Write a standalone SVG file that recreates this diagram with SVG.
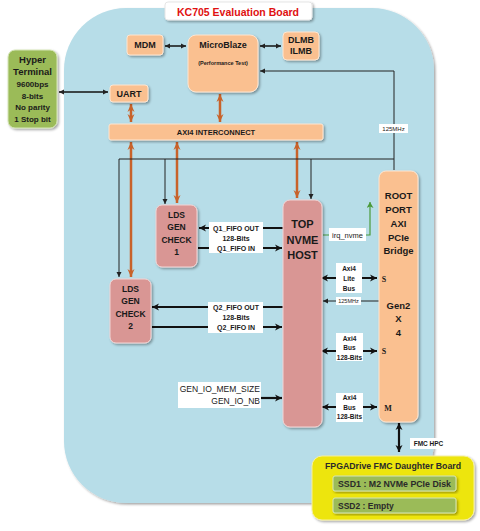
<svg xmlns="http://www.w3.org/2000/svg" width="480" height="531" viewBox="0 0 480 531">
<defs>
<filter id="sh" x="-20%" y="-20%" width="140%" height="140%">
<feDropShadow dx="1.5" dy="1.5" stdDeviation="1" flood-color="#000" flood-opacity="0.35"/>
</filter>
<marker id="ab" markerUnits="userSpaceOnUse" markerWidth="8" markerHeight="8" refX="7" refY="4" orient="auto-start-reverse"><path d="M0,0.5 L7,4 L0,7.5 L2,4 Z" fill="#111"/></marker>
<marker id="as" markerUnits="userSpaceOnUse" markerWidth="6" markerHeight="6" refX="5" refY="3" orient="auto-start-reverse"><path d="M0,0.5 L5,3 L0,5.5 Z" fill="#222"/></marker>
<marker id="ao" markerUnits="userSpaceOnUse" markerWidth="9" markerHeight="9" refX="8" refY="4.5" orient="auto-start-reverse"><path d="M0,1 L8,4.5 L0,8 L2.5,4.5 Z" fill="#c8622a"/></marker>
<marker id="ag" markerUnits="userSpaceOnUse" markerWidth="7" markerHeight="7" refX="6" refY="3.5" orient="auto"><path d="M0,0 L6,3.5 L0,7 L1.5,3.5 Z" fill="#4a9a3a"/></marker>
</defs>
<style>
.t{font-family:"Liberation Sans",Arial,sans-serif;font-weight:bold;fill:#1a1a1a;text-anchor:middle}
.n{font-family:"Liberation Sans",Arial,sans-serif;fill:#1a1a1a}
.sr{font-family:"Liberation Serif","Times New Roman",serif;font-weight:bold;fill:#1a1a1a;text-anchor:middle;font-size:8px}
.or{fill:#fac090;stroke:#fde6d2;stroke-width:1;filter:url(#sh)}
.pk{fill:#d99694;stroke:#f2d6d6;stroke-width:1;filter:url(#sh)}
.gr{fill:#9bbb59;stroke:#d6e6b8;stroke-width:1;filter:url(#sh)}
.wb{fill:#fff}
.thk{stroke:#111;stroke-width:2.2;fill:none}
.thn{stroke:#222;stroke-width:1;fill:none}
.org{stroke:#c8622a;stroke-width:2.5;fill:none}
</style>
<rect width="480" height="531" fill="#fff"/>
<g id="board">
<rect x="64" y="8" width="370" height="495" rx="62" ry="62" fill="#b7dde8" filter="url(#sh)"/>
</g>
<g id="title">
<rect x="165" y="2" width="147" height="18" rx="3" fill="#fff" stroke="#e6e6e6" filter="url(#sh)"/>
<text x="238" y="15.5" class="t" style="fill:#e01010;font-size:11.5px" textLength="122" lengthAdjust="spacingAndGlyphs">KC705 Evaluation Board</text>
</g>
<g id="connectors">
<path class="thk" d="M59,92 H108" marker-start="url(#as)" marker-end="url(#as)" style="stroke-width:1.5"/>
<path class="thk" d="M165,46 H186" marker-start="url(#as)" marker-end="url(#as)" style="stroke-width:1.5"/>
<path class="thk" d="M260,46 H281" marker-start="url(#as)" marker-end="url(#as)" style="stroke-width:1.5"/>
<path class="org" d="M131,104 V122" marker-start="url(#ao)" marker-end="url(#ao)"/>
<path class="org" d="M220,94 V122" marker-start="url(#ao)" marker-end="url(#ao)"/>
<path class="org" d="M131,142 V277" marker-start="url(#ao)" marker-end="url(#ao)"/>
<path class="org" d="M177,142 V203" marker-start="url(#ao)" marker-end="url(#ao)"/>
<path class="org" d="M297,142 V198" marker-start="url(#ao)" marker-end="url(#ao)"/>
<path class="thn" d="M119,159 H394"/>
<path class="thn" d="M394,170 V71 H260" marker-end="url(#as)"/>
<path class="thn" d="M119,159 V277" marker-end="url(#as)"/>
<path class="thn" d="M165,159 V204" marker-end="url(#as)"/>
<path class="thn" d="M311,159 V199" marker-end="url(#as)"/>
<path class="thk" d="M283,228 H199" marker-end="url(#ab)"/>
<path class="thk" d="M198,248 H282" marker-end="url(#ab)"/>
<path class="thk" d="M283,307 H152" marker-end="url(#ab)"/>
<path class="thk" d="M152,327 H282" marker-end="url(#ab)"/>
<path d="M323,235 H370 V202" stroke="#4a9a3a" stroke-width="1.2" fill="none" marker-end="url(#ag)"/>
<path class="thk" d="M321,278 H377" marker-start="url(#ab)" marker-end="url(#ab)"/>
<path class="thn" d="M379,301 H323" marker-end="url(#as)"/>
<path class="thk" d="M321,351 H377" marker-start="url(#ab)" marker-end="url(#ab)"/>
<path class="thk" d="M322,407 H377" marker-start="url(#ab)" marker-end="url(#ab)"/>
<path class="thk" d="M261,398 H282" marker-end="url(#ab)"/>
<path class="thk" d="M399,423 V452" marker-start="url(#ab)" marker-end="url(#ab)"/>
</g>
<g id="labels">
<rect x="379" y="124" width="29" height="9" class="wb"/>
<text x="393.5" y="131" class="n" style="font-size:6px;text-anchor:middle">125MHz</text>
<rect x="209" y="222" width="54" height="31" class="wb"/>
<text x="236" y="230.5" class="t" style="font-size:7px">Q1_FIFO OUT</text>
<text x="236" y="240.5" class="t" style="font-size:7px">128-Bits</text>
<text x="236" y="250.5" class="t" style="font-size:7px">Q1_FIFO IN</text>
<rect x="208" y="302" width="55" height="31" class="wb"/>
<text x="236" y="310" class="t" style="font-size:7px">Q2_FIFO OUT</text>
<text x="236" y="320" class="t" style="font-size:7px">128-Bits</text>
<text x="236" y="330" class="t" style="font-size:7px">Q2_FIFO IN</text>
<rect x="329" y="228" width="37" height="13" class="wb"/>
<text x="347.5" y="237.5" class="n" style="font-size:7.5px;text-anchor:middle">irq_nvme</text>
<rect x="336" y="263" width="26" height="30" class="wb"/>
<text x="349" y="270.5" class="t" style="font-size:6.5px">Axi4</text>
<text x="349" y="280.5" class="t" style="font-size:6.5px">Lite</text>
<text x="349" y="290.5" class="t" style="font-size:6.5px">Bus</text>
<rect x="336" y="297" width="25" height="8" class="wb"/>
<text x="348.5" y="303.3" class="n" style="font-size:5.5px;text-anchor:middle">125MHz</text>
<rect x="336" y="333" width="27" height="28" class="wb"/>
<text x="349.5" y="340.5" class="t" style="font-size:6.5px">Axi4</text>
<text x="349.5" y="350" class="t" style="font-size:6.5px">Bus</text>
<text x="349.5" y="359.5" class="t" style="font-size:6.5px">128-Bits</text>
<rect x="336" y="393" width="27" height="29" class="wb"/>
<text x="349.5" y="400" class="t" style="font-size:6.5px">Axi4</text>
<text x="349.5" y="409.5" class="t" style="font-size:6.5px">Bus</text>
<text x="349.5" y="419" class="t" style="font-size:6.5px">128-Bits</text>
<rect x="178" y="382" width="83" height="26" class="wb"/>
<text x="260" y="392" class="n" style="font-size:8.5px;text-anchor:end">GEN_IO_MEM_SIZE</text>
<text x="260" y="404" class="n" style="font-size:8.5px;text-anchor:end">GEN_IO_NB</text>
<rect x="410" y="438" width="37" height="11" class="wb"/>
<text x="428.5" y="446" class="t" style="font-size:6.5px">FMC HPC</text>
<rect x="308" y="273" width="11" height="11" class="wb"/>
<text x="313.5" y="281.8" class="sr">M</text>
<rect x="308" y="346" width="11" height="11" class="wb"/>
<text x="313.5" y="354.8" class="sr">M</text>
<rect x="312" y="402" width="9" height="11" class="wb"/>
<text x="316.5" y="410.8" class="sr">S</text>
</g>
<g id="hyper">
<rect x="8" y="50" width="49" height="78" rx="7" class="gr"/>
<text x="32.5" y="63" class="t" style="font-size:9.5px">Hyper</text>
<text x="32.5" y="75" class="t" style="font-size:9.5px">Terminal</text>
<text x="32.5" y="87" class="t" style="font-size:8px">9600bps</text>
<text x="32.5" y="98.5" class="t" style="font-size:8px">8-bits</text>
<text x="32.5" y="110" class="t" style="font-size:8px">No parity</text>
<text x="32.5" y="121.5" class="t" style="font-size:8px">1 Stop bit</text>
</g>
<g id="mdm">
<rect x="127" y="35" width="36" height="20" rx="3" class="or"/>
<text x="145" y="48" class="t" style="font-size:9px">MDM</text>
</g>
<g id="microblaze">
<rect x="188" y="35" width="70" height="57" rx="8" class="or"/>
<text x="223" y="48" class="t" style="font-size:9px">MicroBlaze</text>
<text x="223" y="65" class="t" style="font-size:5.5px">(Performance Test)</text>
</g>
<g id="lmb">
<rect x="283" y="32" width="36" height="28" rx="4" class="or"/>
<text x="301" y="42.5" class="t" style="font-size:9px">DLMB</text>
<text x="301" y="54" class="t" style="font-size:9px">ILMB</text>
</g>
<g id="uart">
<rect x="110" y="85" width="38" height="17" rx="3" class="or"/>
<text x="129" y="96.5" class="t" style="font-size:9px">UART</text>
</g>
<g id="axi">
<rect x="109" y="124" width="214" height="16" rx="2" class="or"/>
<text x="216" y="135" class="t" style="font-size:7.5px">AXI4 INTERCONNECT</text>
</g>
<g id="lds1">
<rect x="156" y="205" width="41" height="62" rx="6" class="pk"/>
<text x="176.5" y="217.5" class="t" style="font-size:8.5px">LDS</text>
<text x="176.5" y="230" class="t" style="font-size:8.5px">GEN</text>
<text x="176.5" y="242.5" class="t" style="font-size:8.5px">CHECK</text>
<text x="176.5" y="255" class="t" style="font-size:8.5px">1</text>
</g>
<g id="lds2">
<rect x="110" y="279" width="41" height="64" rx="6" class="pk"/>
<text x="130.5" y="291.5" class="t" style="font-size:8.5px">LDS</text>
<text x="130.5" y="304" class="t" style="font-size:8.5px">GEN</text>
<text x="130.5" y="316.5" class="t" style="font-size:8.5px">CHECK</text>
<text x="130.5" y="329" class="t" style="font-size:8.5px">2</text>
</g>
<g id="nvme">
<rect x="283" y="200" width="39" height="227" rx="7" class="pk"/>
<text x="302.5" y="228" class="t" style="font-size:11px">TOP</text>
<text x="302.5" y="243.5" class="t" style="font-size:11px">NVME</text>
<text x="302.5" y="259" class="t" style="font-size:11px">HOST</text>
</g>
<g id="rootport">
<rect x="379" y="171" width="39" height="251" rx="7" class="or"/>
<text x="398.5" y="198.5" class="t" style="font-size:9.5px">ROOT</text>
<text x="398.5" y="212.5" class="t" style="font-size:9.5px">PORT</text>
<text x="398.5" y="226.5" class="t" style="font-size:9.5px">AXI</text>
<text x="398.5" y="240.5" class="t" style="font-size:9.5px">PCIe</text>
<text x="398.5" y="254" class="t" style="font-size:9.5px">Bridge</text>
<text x="398.5" y="308.5" class="t" style="font-size:9.5px">Gen2</text>
<text x="398.5" y="322" class="t" style="font-size:9.5px">X</text>
<text x="398.5" y="335.5" class="t" style="font-size:9.5px">4</text>
<text x="384" y="282" class="sr">S</text>
<text x="384" y="354" class="sr">S</text>
<text x="388" y="411" class="sr">M</text>
</g>
<g id="daughter">
<rect x="312" y="456" width="162" height="64" rx="10" fill="#ede50e" stroke="#f6f0a0" stroke-width="1" filter="url(#sh)"/>
<text x="393" y="468.5" class="t" style="font-size:8.5px;fill:#2a2a2a" textLength="136" lengthAdjust="spacingAndGlyphs">FPGADrive FMC Daughter Board</text>
<g id="ssd1">
<rect x="333" y="476" width="123" height="15" rx="2" class="gr"/>
<text x="338" y="486.8" class="t" style="font-size:8.5px;text-anchor:start;fill:#2a2a2a" textLength="113" lengthAdjust="spacingAndGlyphs">SSD1 : M2 NVMe PCIe Disk</text>
</g>
<g id="ssd2">
<rect x="333" y="498" width="123" height="15" rx="2" class="gr"/>
<text x="338" y="508.8" class="t" style="font-size:8.5px;text-anchor:start;fill:#2a2a2a">SSD2 : Empty</text>
</g>
</g>
</svg>
